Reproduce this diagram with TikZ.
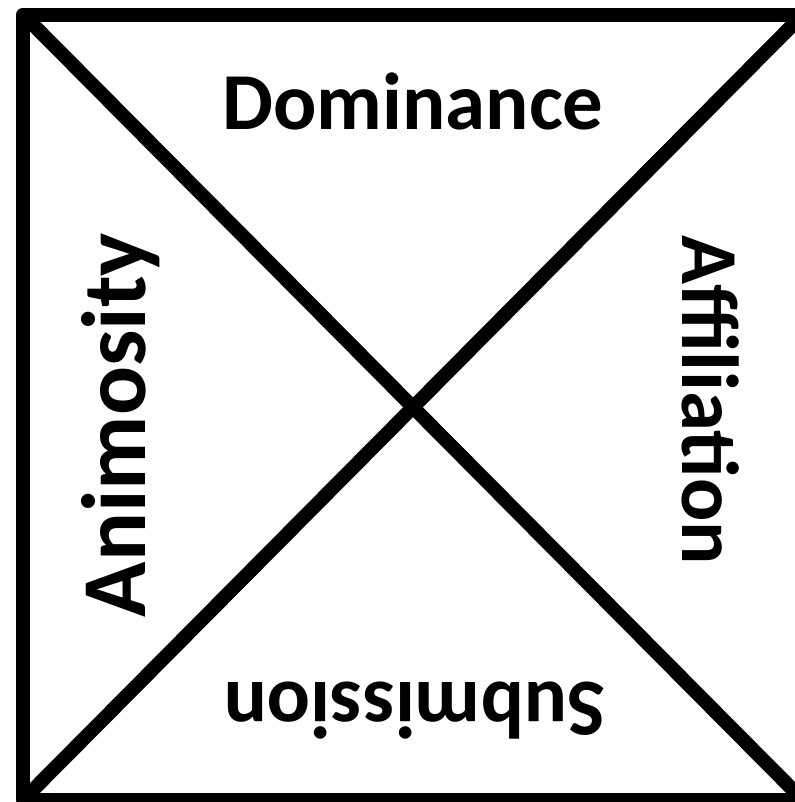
\documentclass[tikz,border=0pt]{standalone}
\usepackage{fontspec}
\setmainfont{Carlito}
\usetikzlibrary{positioning}
\tikzset{
  frame_line/.style={draw=black,line width=0.28cm,line join=round},
  quad_label/.style={inner sep=0pt,anchor=base,
    font=\fontsize{46}{50}\selectfont\bfseries},
}
\begin{document}
\begin{tikzpicture}[x=0.02cm,y=-0.02cm]
  \useasboundingbox (0,0) rectangle (795,802);
  \coordinate (tl) at (23,14.5);
  \coordinate (tr) at (803,14.5);
  \coordinate (br) at (803,800);
  \coordinate (bl) at (23,800);

  \draw[frame_line] (tl) -- (tr) -- (br) -- (bl) -- cycle;
  \draw[frame_line] (tl) -- (br);
  \draw[frame_line] (tr) -- (bl);

  \node[quad_label] (dom) at (413,129) {Dominance};
  \node[quad_label,rotate=90,font=\fontsize{52}{56}\selectfont\bfseries] (ani) at (145,425) {Animosity};
  \node[quad_label,rotate=-90] (aff) at (682,400) {Affiliation};
  \node[quad_label,rotate=180] (sub) at (415,682) {Submission};
\end{tikzpicture}
\end{document}
